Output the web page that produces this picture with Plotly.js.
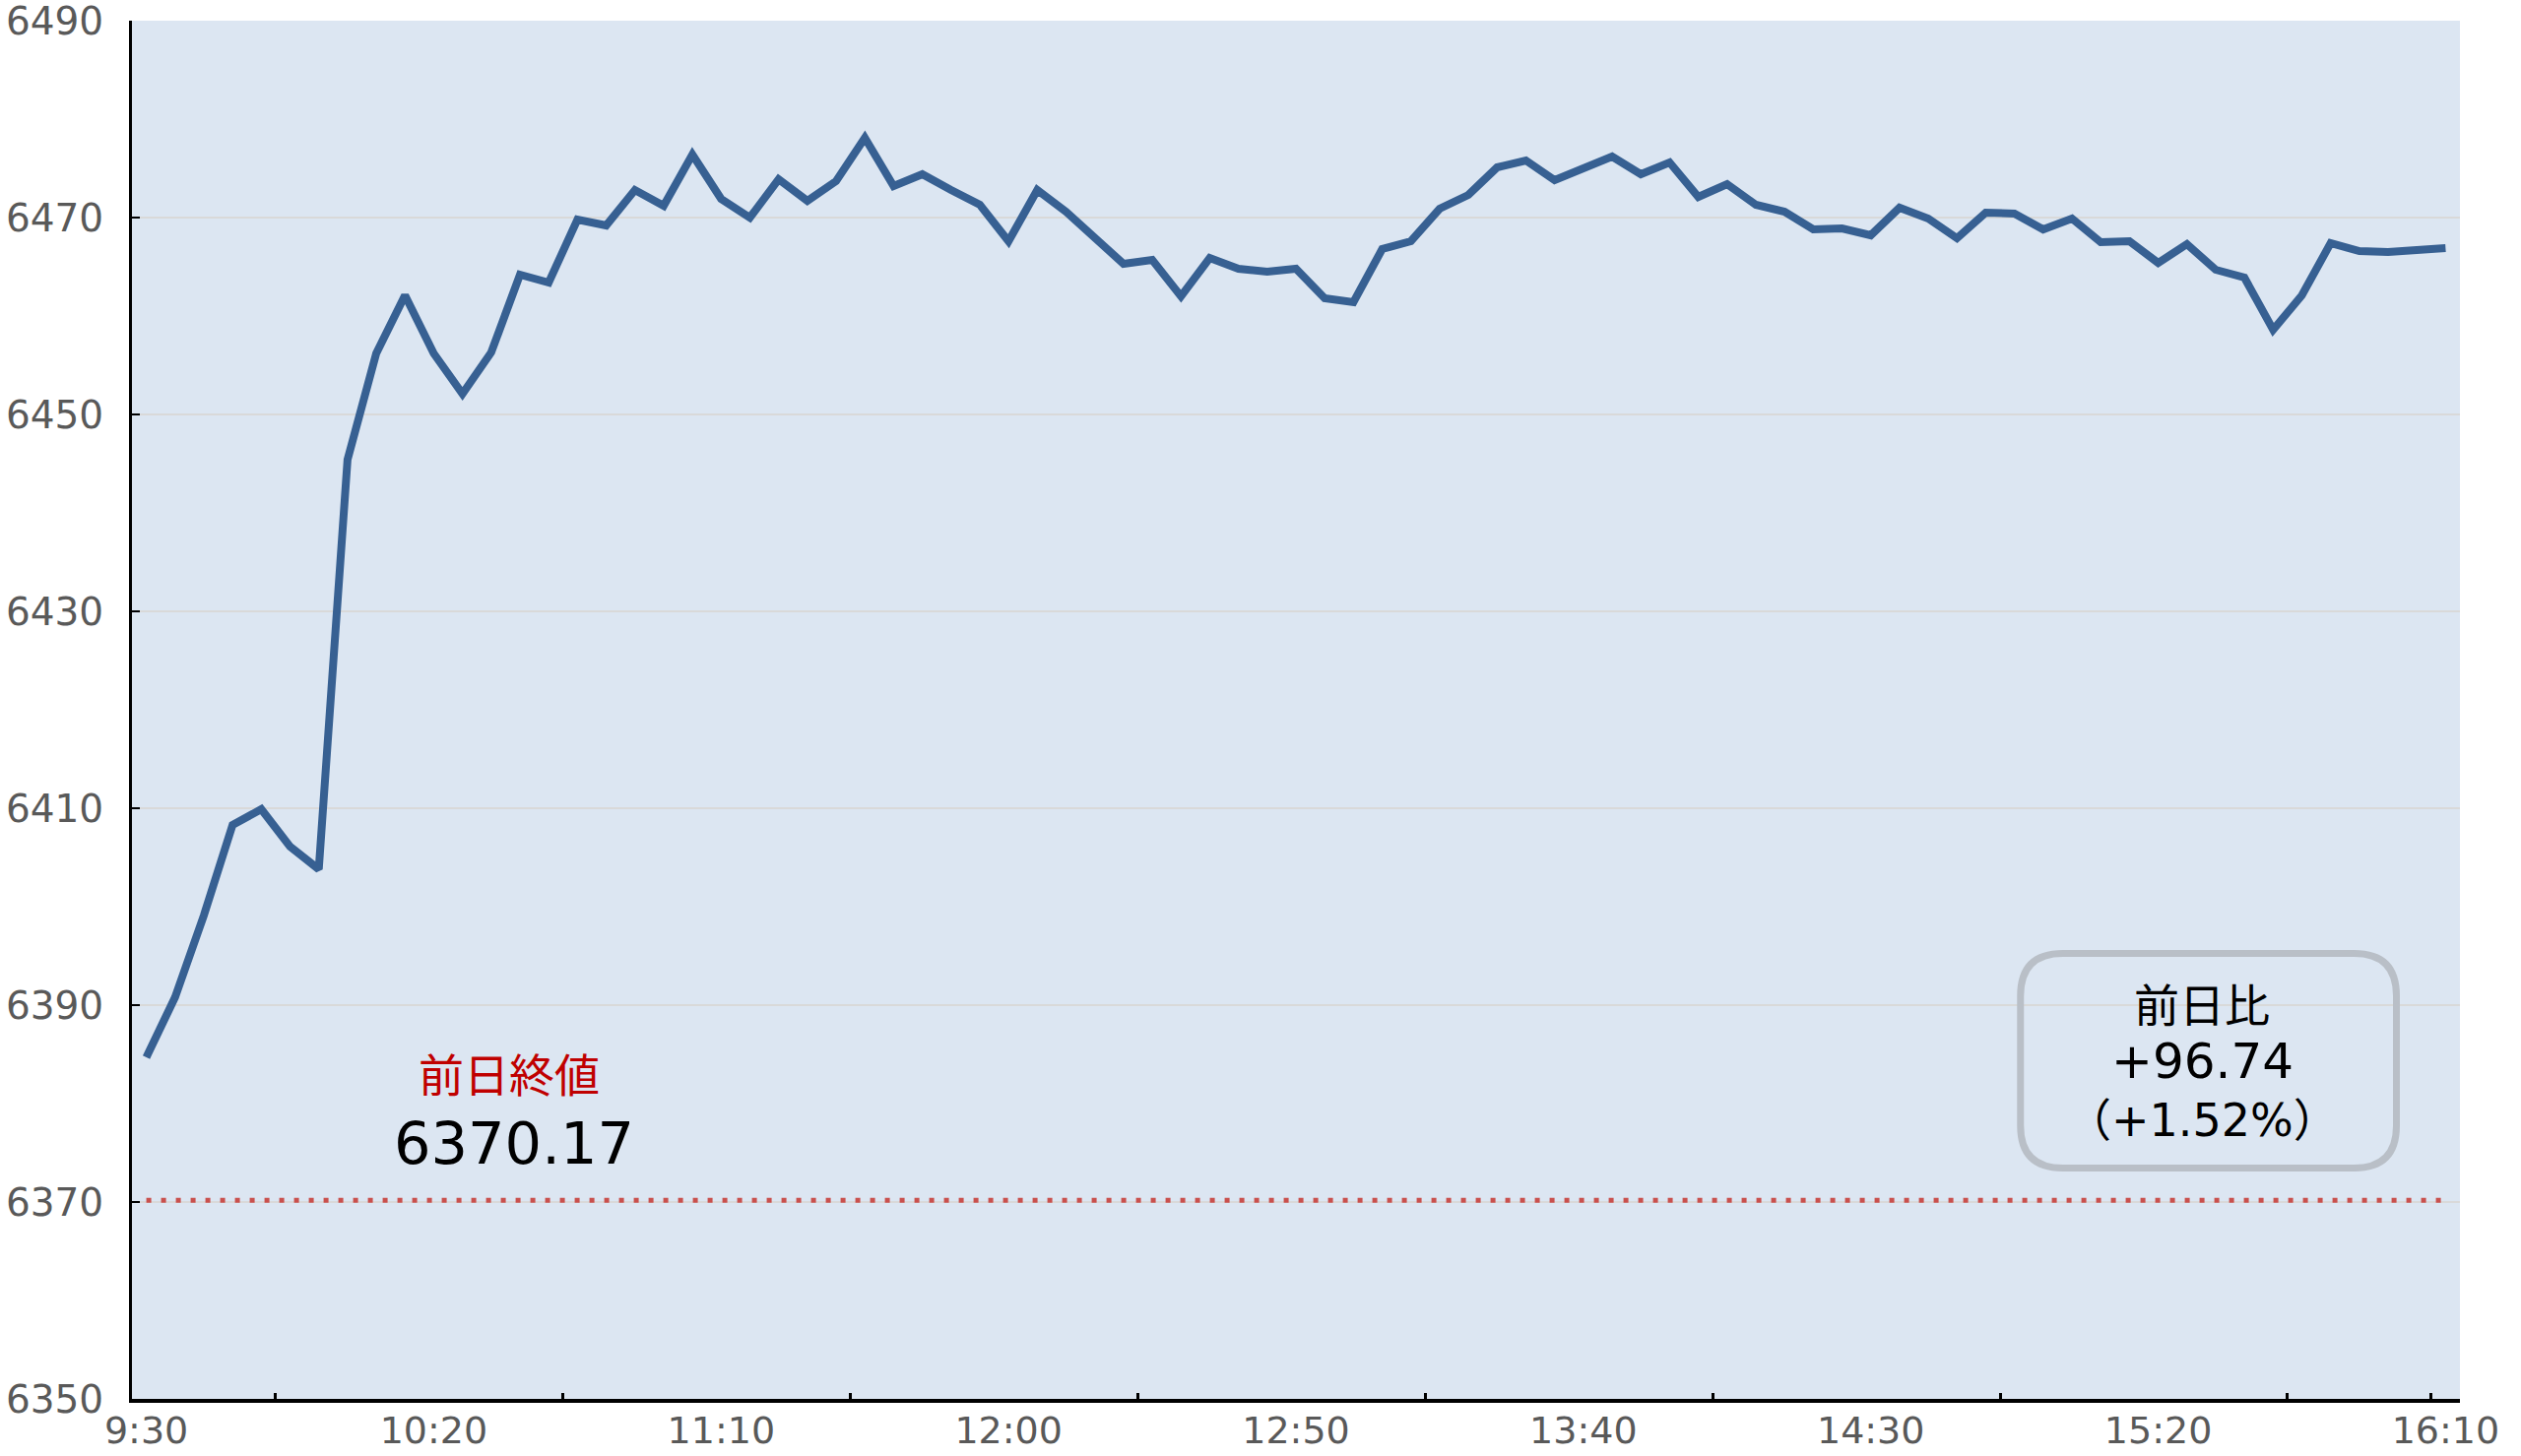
<!DOCTYPE html>
<html>
<head>
<meta charset="utf-8">
<script src="https://cdn.plot.ly/plotly-3.0.1.min.js"></script>
<style>
	html, body { margin: 0; padding: 0; background: #ffffff; }
	#chart { width: 2560px; height: 1479px; }
</style>
</head>
<body>
<div id="chart"></div>
<script>
// 5-minute closes, 9:30 .. 16:10 (81 points)
var prices = [
	6384.7, 6390.8, 6399.1, 6408.3, 6409.9, 6406.1, 6403.8, 6445.4, 6456.2, 6462.1,
	6456.2, 6452.1, 6456.3, 6464.2, 6463.4, 6469.8, 6469.2, 6472.8, 6471.2, 6476.4,
	6471.9, 6470.0, 6473.9, 6471.7, 6473.7, 6478.1, 6473.2, 6474.4, 6472.8, 6471.3,
	6467.6, 6472.8, 6470.6, 6467.9, 6465.3, 6465.7, 6462.0, 6465.9, 6464.8, 6464.5,
	6464.8, 6461.8, 6461.4, 6466.8, 6467.6, 6470.9, 6472.3, 6475.1, 6475.8, 6473.8,
	6475.1, 6476.2, 6474.4, 6475.6, 6472.1, 6473.4, 6471.3, 6470.6, 6468.8, 6468.9,
	6468.2, 6471.0, 6469.9, 6467.9, 6470.5, 6470.4, 6468.8, 6469.9, 6467.5, 6467.6,
	6465.4, 6467.3, 6464.7, 6463.9, 6458.6, 6462.1, 6467.4, 6466.6, 6466.5, 6466.8,
	6466.91
];
var timeLabels = ["9:30", "10:20", "11:10", "12:00", "12:50", "13:40", "14:30", "15:20", "16:10"];
var labelIndex = [0, 10, 20, 30, 40, 50, 60, 70, 80];
var yTicks = [6350, 6370, 6390, 6410, 6430, 6450, 6470, 6490];
var prevClose = 6370.17;
var prevCloseLabel = "前日終値";
var changeLabel = "前日比";
var changeValue = "+96.74";
var changePct = "（+1.52%）";

var FONT = "DejaVu Sans, Noto Sans CJK JP, sans-serif";

var idx = prices.map(function(v, i){ return i; });

var priceLine = {
	x: idx,
	y: prices,
	mode: "lines",
	type: "scatter",
	line: { color: "#376092", width: 8 },
	hoverinfo: "none"
};

var closeLine = {
	x: [idx[0], idx[idx.length - 1]],
	y: [prevClose, prevClose],
	mode: "lines",
	type: "scatter",
	line: { color: "#c9504d", width: 5, dash: "5px,10px" },
	hoverinfo: "none"
};

// rounded box around the change text, radius given in pixels
var pxX = 29.19, pxY = 10, rad = 43;
var bx0 = 65.21, bx1 = 78.29, by0 = 6373.45, by1 = 6395.25;
var rx = rad / pxX, ry = rad / pxY;
var boxPath = "M " + (bx0 + rx) + "," + by1 +
	" L " + (bx1 - rx) + "," + by1 +
	" Q " + bx1 + "," + by1 + " " + bx1 + "," + (by1 - ry) +
	" L " + bx1 + "," + (by0 + ry) +
	" Q " + bx1 + "," + by0 + " " + (bx1 - rx) + "," + by0 +
	" L " + (bx0 + rx) + "," + by0 +
	" Q " + bx0 + "," + by0 + " " + bx0 + "," + (by0 + ry) +
	" L " + bx0 + "," + (by1 - ry) +
	" Q " + bx0 + "," + by1 + " " + (bx0 + rx) + "," + by1 + " Z";

var layout = {
	width: 2560,
	height: 1479,
	showlegend: false,
	paper_bgcolor: "#ffffff",
	plot_bgcolor: "#dce6f2",
	margin: { l: 134, r: 62, t: 21, b: 58 },
	font: { family: FONT, color: "#595959", size: 39 },
	xaxis: {
		range: [-0.5, 80.5],
		tickmode: "array",
		tickvals: labelIndex,
		ticktext: timeLabels,
		ticks: "",
		showgrid: false,
		zeroline: false,
		showline: true,
		linecolor: "#000000",
		linewidth: 4,
		tickfont: { family: FONT, size: 38, color: "#595959" },
		ticklabelstandoff: -5,
		minor: {
			tickmode: "array",
			tickvals: [4.5, 14.5, 24.5, 34.5, 44.5, 54.5, 64.5, 74.5, 79.5],
			ticks: "inside",
			ticklen: 6,
			tickwidth: 3,
			tickcolor: "#000000",
			showgrid: false
		}
	},
	yaxis: {
		range: [6350, 6490],
		tickmode: "array",
		tickvals: yTicks,
		ticks: "inside",
		ticklen: 8,
		tickwidth: 2,
		tickcolor: "#000000",
		showgrid: true,
		gridcolor: "#d9d9d9",
		gridwidth: 2,
		zeroline: false,
		showline: true,
		linecolor: "#000000",
		linewidth: 3,
		tickfont: { family: FONT, size: 39, color: "#595959" },
		ticklabelstandoff: 18,
		ticklabeloverflow: "allow"
	},
	shapes: [{
		type: "path",
		xref: "x",
		yref: "y",
		path: boxPath,
		line: { color: "#b9bfc7", width: 7 },
		fillcolor: "rgba(0,0,0,0)",
		layer: "above"
	}],
	annotations: [
		{ x: 12.64, y: 6382.8, xref: "x", yref: "y", text: prevCloseLabel, showarrow: false,
			font: { family: FONT, size: 46, color: "#c00000" } },
		{ x: 12.81, y: 6376.0, xref: "x", yref: "y", text: prevClose.toFixed(2), showarrow: false,
			font: { family: FONT, size: 59, color: "#000000" } },
		{ x: 71.53, y: 6389.9, xref: "x", yref: "y", text: changeLabel, showarrow: false,
			font: { family: FONT, size: 46, color: "#000000" } },
		{ x: 71.53, y: 6384.3, xref: "x", yref: "y", text: changeValue, showarrow: false,
			font: { family: FONT, size: 50, color: "#000000" } },
		{ x: 71.53, y: 6378.3, xref: "x", yref: "y", text: changePct, showarrow: false,
			font: { family: FONT, size: 46, color: "#000000" } }
	]
};

Plotly.newPlot("chart", [priceLine, closeLine], layout, { staticPlot: true });
</script>
</body>
</html>
